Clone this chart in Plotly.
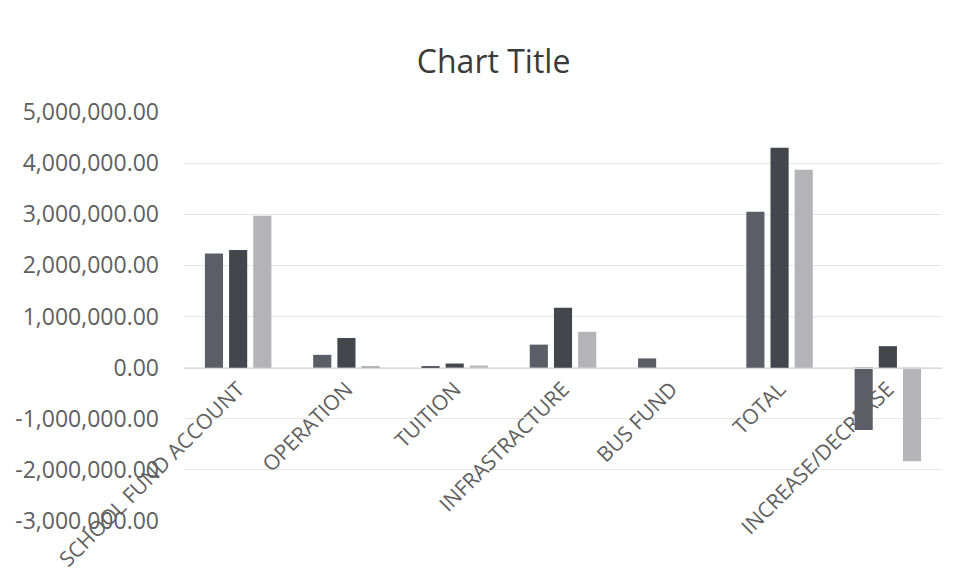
import plotly.graph_objects as go

categories = ["SCHOOL FUND ACCOUNT", "OPERATION", "TUITION", "INFRASTRACTURE",
              "BUS FUND", "TOTAL", "INCREASE/DECREASE"]
series1 = [2230000, 250000, 30000, 450000, 180000, 3050000, -1220000]
series2 = [2300000, 580000, 80000, 1170000, 0, 4300000, 420000]
series3 = [2970000, 20000, 40000, 700000, 0, 3870000, -1830000]
series_names = ["Series1", "Series2", "Series3"]
series_colors = ["#5b5e66", "#44464e", "#b3b3b8"]

y_tick_vals = [5000000, 4000000, 3000000, 2000000, 1000000, 0,
               -1000000, -2000000, -3000000]
y_tick_text = ["5,000,000.00", "4,000,000.00", "3,000,000.00", "2,000,000.00",
               "1,000,000.00", "0.00", "-1,000,000.00", "-2,000,000.00",
               "-3,000,000.00"]
y_min, y_max = -3000000, 5000000

fig = go.Figure()
for name, vals, col in zip(series_names, [series1, series2, series3], series_colors):
    fig.add_trace(go.Bar(x=categories, y=vals, name=name, marker_color=col,
                         marker_line_width=0))

FONT = "Open Sans, Noto Sans, sans-serif"
fig.update_layout(
    width=954, height=572,
    paper_bgcolor="white", plot_bgcolor="white",
    margin=dict(l=176, r=20, t=104, b=59, autoexpand=False),
    barmode="group", bargap=0.33, bargroupgap=0.25,
    showlegend=False,
    title=dict(text="Chart Title", x=0.509, xanchor="center", y=0.906, yanchor="middle",
               font=dict(family=FONT, size=32, color="#3a3a3a"),
               automargin=False),
    font=dict(family=FONT, color="#606060"),
)
fig.update_yaxes(range=[y_min, y_max], tickvals=y_tick_vals, ticktext=y_tick_text,
                 showgrid=True, gridcolor="#e6e6e6", gridwidth=1,
                 zeroline=False, showline=False, ticks="", automargin=False,
                 tickfont=dict(family=FONT, size=23, color="#606060"),
                 ticklabelstandoff=24)
fig.update_xaxes(anchor="free", position=(0 - y_min) / (y_max - y_min),
                 showline=True, linecolor="#d9d9d9", linewidth=1, automargin=False,
                 ticks="", tickangle=-45, showgrid=False,
                 tickfont=dict(family=FONT, size=21, color="#606060"))

fig.write_html("out.html")
